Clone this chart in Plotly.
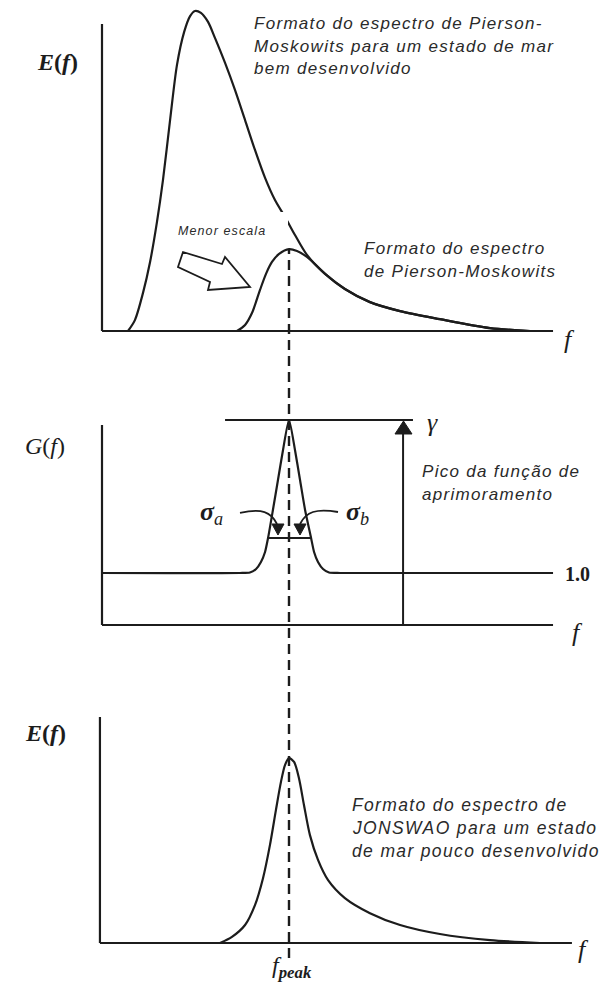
import plotly.graph_objects as go

W, H = 600, 986

# ---------------------------------------------------------------
# Spectral shapes (frequency normalised so that f_peak = 1)
# ---------------------------------------------------------------
F_PEAK = 1.0

# Pierson-Moskowitz, fully developed sea
pm_dev_f = [0.139, 0.176, 0.219, 0.257, 0.294, 0.326, 0.364, 0.401, 0.439, 0.471,
            0.497, 0.529, 0.567, 0.604, 0.658, 0.711, 0.765, 0.818, 0.872, 0.925,
            0.979, 1.032, 1.096, 1.193, 1.299, 1.433, 1.594, 1.807, 2.075, 2.289]
pm_dev_E = [0.0, 0.034, 0.118, 0.215, 0.340, 0.470, 0.657, 0.829, 0.931, 0.981,
            0.997, 0.991, 0.963, 0.913, 0.835, 0.751, 0.657, 0.564, 0.477, 0.408,
            0.355, 0.299, 0.237, 0.178, 0.131, 0.090, 0.062, 0.037, 0.009, 0.0]

# Pierson-Moskowitz shape at a smaller scale
pm_small_f = [0.722, 0.765, 0.802, 0.845, 0.877, 0.909, 0.947, 1.0, 1.043, 1.096,
              1.193, 1.299, 1.433, 1.594, 1.807, 2.075, 2.289]
pm_small_E = [0.0, 0.019, 0.056, 0.128, 0.178, 0.215, 0.240, 0.255, 0.249, 0.231,
              0.178, 0.131, 0.090, 0.062, 0.037, 0.009, 0.0]

# Peak enhancement function G(f)
g_f = [0.0, 0.738, 0.791, 0.824, 0.850, 0.872, 0.888, 0.914, 0.941, 0.968, 1.0,
       1.032, 1.059, 1.086, 1.118, 1.134, 1.155, 1.182, 1.214, 1.273, 2.412]
g_val = [1.0, 1.0, 1.010, 1.077, 1.212, 1.404, 1.673, 2.212, 2.788, 3.365, 3.942,
         3.365, 2.788, 2.212, 1.673, 1.404, 1.212, 1.077, 1.010, 1.0, 1.0]
GAMMA = 3.942
SIGMA_LEVEL = 1.673
sigma_f = [0.888, 1.118]

# JONSWAP, developing sea
jon_f = [0.631, 0.695, 0.765, 0.818, 0.861, 0.898, 0.930, 0.957, 0.979, 1.0,
         1.027, 1.053, 1.080, 1.112, 1.155, 1.209, 1.299, 1.433, 1.594, 1.807,
         2.075, 2.342]
jon_E = [0.0, 0.019, 0.056, 0.118, 0.202, 0.305, 0.414, 0.502, 0.555, 0.576,
         0.564, 0.514, 0.430, 0.336, 0.259, 0.196, 0.140, 0.093, 0.056, 0.028,
         0.009, 0.0]

# ---------------------------------------------------------------
# Layout geometry (pixels)
# ---------------------------------------------------------------
PX_F0, PX_PER_F = 102, 187          # f = 0 column and scale
F_RANGE = [(0 - PX_F0) / PX_PER_F, (W - PX_F0) / PX_PER_F]

# (baseline px, px per unit, domain top px, domain bottom px)
PANELS = {
    1: (331, 321, 0, 345),
    2: (625, 52, 380, 640),
    3: (943, 321, 700, 986),
}

INK = "#1c1c1c"
TXT = "#2a2a2a"
SANS = "Liberation Sans, Arial, sans-serif"
SERIF = "Liberation Serif, Times New Roman, serif"


def px(x, y):
    return x / W, 1 - y / H


fig = go.Figure()

axis_common = dict(visible=False, showgrid=False, zeroline=False, fixedrange=True)
for i, (base, ppu, top, bot) in PANELS.items():
    sfx = "" if i == 1 else str(i)
    fig.update_layout({
        f"xaxis{sfx}": dict(axis_common, domain=[0, 1], range=F_RANGE,
                            anchor=f"y{sfx}"),
        f"yaxis{sfx}": dict(axis_common, domain=[1 - bot / H, 1 - top / H],
                            range=[(base - bot) / ppu, (base - top) / ppu],
                            anchor=f"x{sfx}"),
    })

line_style = dict(color=INK, width=2.2, shape="spline", smoothing=0.8)

fig.add_trace(go.Scatter(x=pm_dev_f, y=pm_dev_E, mode="lines", line=line_style,
                         xaxis="x", yaxis="y", hoverinfo="skip"))
fig.add_trace(go.Scatter(x=pm_small_f, y=pm_small_E, mode="lines", line=line_style,
                         xaxis="x", yaxis="y", hoverinfo="skip"))
fig.add_trace(go.Scatter(x=g_f, y=g_val, mode="lines",
                         line=dict(line_style, smoothing=0.6),
                         xaxis="x2", yaxis="y2", hoverinfo="skip"))
fig.add_trace(go.Scatter(x=sigma_f, y=[SIGMA_LEVEL, SIGMA_LEVEL], mode="lines",
                         line=dict(color=INK, width=2),
                         xaxis="x2", yaxis="y2", hoverinfo="skip"))
fig.add_trace(go.Scatter(x=jon_f, y=jon_E, mode="lines", line=line_style,
                         xaxis="x3", yaxis="y3", hoverinfo="skip"))

shapes = []


def seg(xr, yr, x0, y0, x1, y1, w=2.2, dash=None):
    shapes.append(dict(type="line", xref=xr, yref=yr, x0=x0, y0=y0, x1=x1, y1=y1,
                       line=dict(color=INK, width=w, dash=dash), layer="above"))


# axes of the three panels
seg("x", "y", 0.0, 0.0, 0.0, 0.956)
seg("x", "y", 0.0, 0.0, 2.412, 0.0)
seg("x2", "y2", 0.0, 0.0, 0.0, 3.846)
seg("x2", "y2", 0.0, 0.0, 2.412, 0.0)
seg("x3", "y3", -0.011, 0.0, -0.011, 0.704)
seg("x3", "y3", -0.011, 0.0, 2.513, 0.0)

# gamma level and its arrow
seg("x2", "y2", 0.658, GAMMA, 1.663, GAMMA)
ARROW_F = 1.610
seg("x2", "y2", ARROW_F, 0.0, ARROW_F, GAMMA - 0.15, w=2)


def path(points, fill=None, w=2):
    d = "M " + " L ".join(f"{px(x, y)[0]:.5f},{px(x, y)[1]:.5f}" for x, y in points)
    if fill:
        d += " Z"
    shapes.append(dict(type="path", xref="paper", yref="paper", path=d,
                       fillcolor=fill if fill else "rgba(0,0,0,0)",
                       line=dict(color=INK, width=w), layer="above"))


def cpath(p0, c1, c2, p1, w=2):
    pts = [px(*p) for p in (p0, c1, c2, p1)]
    d = (f"M {pts[0][0]:.5f},{pts[0][1]:.5f} C {pts[1][0]:.5f},{pts[1][1]:.5f} "
         f"{pts[2][0]:.5f},{pts[2][1]:.5f} {pts[3][0]:.5f},{pts[3][1]:.5f}")
    shapes.append(dict(type="path", xref="paper", yref="paper", path=d,
                       line=dict(color=INK, width=w), layer="above"))


# arrow head on the gamma arrow
path([(395, 434), (412, 434), (403.5, 421)], fill=INK, w=1)

# sigma pointers
cpath((240, 513), (262, 508), (271, 512), (277, 524), w=1.8)
cpath((338, 512), (316, 508), (306, 512), (300, 524), w=1.8)
path([(272, 524), (284, 524), (278, 535)], fill=INK, w=1)
path([(294, 524), (306, 524), (300, 535)], fill=INK, w=1)

# hollow block arrow ("Menor escala")
path([(183, 252), (222, 264), (225, 257), (250, 287), (208, 290), (210, 282),
      (178, 267)], fill="white", w=1.8)

# white patch behind "Menor escala"
shapes.append(dict(type="rect", xref="paper", yref="paper",
                   x0=168 / W, x1=288 / W, y0=1 - 238 / H, y1=1 - 212 / H,
                   fillcolor="white", line=dict(width=0), layer="above"))

# f_peak dashed guide
shapes.append(dict(type="line", xref="x", yref="paper", x0=F_PEAK, x1=F_PEAK,
                   y0=1 - 958 / H, y1=1 - 249 / H,
                   line=dict(color=INK, width=2.4, dash="10px,6px"), layer="above"))

fig.update_layout(shapes=shapes)

ann = []


def text(x, y, s, size, family=SANS, anchor="left", spacing=None, color=TXT):
    if spacing:
        s = f'<span style="letter-spacing:{spacing}px">{s}</span>'
    xx, yy = px(x, y)
    ann.append(dict(x=xx, y=yy, xref="paper", yref="paper", text=s, showarrow=False,
                    xanchor=anchor, yanchor="middle",
                    font=dict(family=family, size=size, color=color)))


def block(x, ys, lines, size=17, spacing=1.3):
    for y, ln in zip(ys, lines):
        text(x, y, f"<i>{ln}</i>", size, spacing=spacing)


block(252, [23, 46, 69], ["Formato do espectro de Pierson-",
                          "Moskowits para um estado de mar",
                          "bem desenvolvido"])
block(362, [249, 271], ["Formato do espectro", "de Pierson-Moskowits"])
block(176, [231], ["Menor escala"], size=12.5, spacing=1.1)
block(420, [472, 495], ["Pico da função de", "aprimoramento"])
block(350, [805, 828, 851], ["Formato do espectro de",
                             "JONSWAO para um estado",
                             "de mar pouco desenvolvido"], size=17.5, spacing=1.35)

text(57, 62, "<b><i>E</i>(<i>f</i>)</b>", 24, SERIF, "center", color=INK)
text(45, 446, "<i>G</i>(<i>f</i>)", 24, SERIF, "center", color=INK)
text(45, 733, "<b><i>E</i>(<i>f</i>)</b>", 24, SERIF, "center", color=INK)
text(569, 339, "<i>f</i>", 26, SERIF, "center", color=INK)
text(577, 632, "<i>f</i>", 26, SERIF, "center", color=INK)
text(583, 949, "<i>f</i>", 26, SERIF, "center", color=INK)
text(432, 422, "<i>γ</i>", 26, SERIF, "center", color=INK)
text(211, 513, "<b><i>σ</i></b><sub><i>a</i></sub>", 26, SERIF, "center", color=INK)
text(357, 513, "<b><i>σ</i></b><sub><i>b</i></sub>", 26, SERIF, "center", color=INK)
text(577, 574, "<b>1.0</b>", 20, SERIF, "center", color=INK)
text(292, 967, "<i>f</i><sub><b><i>peak</i></b></sub>", 24, SERIF, "center", color=INK)

fig.update_layout(
    annotations=ann,
    width=W, height=H,
    margin=dict(l=0, r=0, t=0, b=0),
    paper_bgcolor="white", plot_bgcolor="white",
    showlegend=False,
)

fig.write_html("out.html", config={"displayModeBar": False})
